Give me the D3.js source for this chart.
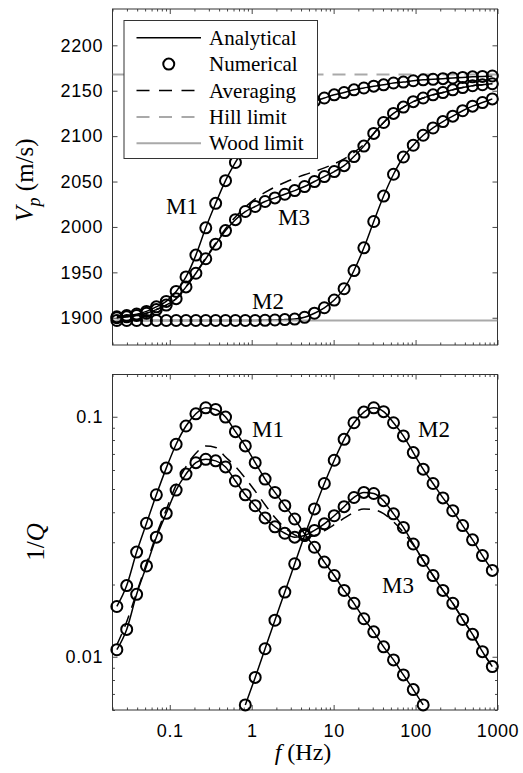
<!DOCTYPE html>
<html>
<head>
<meta charset="utf-8">
<script src="https://cdn.jsdelivr.net/npm/d3@7"></script>
<style>
  body { margin: 0; background: #fff; }
  svg { display: block; }
</style>
</head>
<body>
<svg id="chart" width="523" height="773"></svg>
<script>
// ---------------- DATA ----------------
const freq = [0.0226, 0.0298, 0.0394, 0.0520, 0.0686, 0.0906, 0.1196, 0.1578, 0.2084, 0.2750,
  0.3631, 0.4793, 0.6328, 0.8354, 1.103, 1.456, 1.921, 2.536, 3.348, 4.420,
  5.834, 7.701, 10.17, 13.42, 17.72, 23.39, 30.87, 40.75, 53.80, 71.02,
  93.76, 123.8, 163.4, 215.7, 284.7, 375.8, 496.1, 654.9, 864.6];

// P-wave velocity (m/s)
const vpM1 = [1901, 1902.5, 1904, 1907, 1912, 1918, 1929, 1945, 1969, 1999,
  2026, 2051, 2071, 2088, 2102, 2112, 2120, 2126, 2131, 2135,
  2138.5, 2142, 2145.5, 2148, 2151, 2153, 2155, 2156.5, 2158.5, 2159.5,
  2161, 2162, 2162.6, 2163.3, 2164, 2164.7, 2165.3, 2165.8, 2166.2];
const vpM2 = [1897, 1897, 1897, 1897, 1897, 1897, 1897, 1897, 1897, 1897,
  1897, 1897, 1897, 1897, 1897, 1897.2, 1897.5, 1898, 1898.5, 1900.5,
  1905, 1911, 1919.5, 1932, 1952, 1977, 2006, 2034, 2058, 2077,
  2090, 2101, 2109, 2116, 2122, 2128, 2133, 2137, 2141];
const vpM3 = [1900, 1901, 1902.5, 1905, 1909, 1914, 1921, 1934, 1949, 1965,
  1981, 1996, 2008, 2017, 2022.5, 2028, 2032, 2036, 2040, 2044.5,
  2050, 2055.5, 2061, 2067.5, 2077.5, 2089, 2103, 2115, 2125, 2132,
  2138, 2142, 2145.5, 2148, 2151, 2153.5, 2155.5, 2156.6, 2157.7];
const vpAvgM3 = [1900, 1901, 1902.5, 1905, 1909, 1914, 1921, 1934, 1949, 1966,
  1982, 1998, 2011, 2022, 2031, 2038, 2044, 2049, 2053.5, 2057.5,
  2061, 2065, 2069.5, 2075, 2082, 2091, 2103, 2115, 2125, 2132,
  2138, 2142, 2145.5, 2148, 2151, 2153.5, 2155.5, 2156.6, 2157.7];
const hillLimit = 2168;
const woodLimit = 1897;

// attenuation 1/Q (null = outside the plotted range)
const qM1 = [0.0162, 0.0198, 0.0273, 0.036, 0.0473, 0.0611, 0.0768, 0.0915, 0.1029, 0.109,
  0.1073, 0.0997, 0.0867, 0.0756, 0.0644, 0.055, 0.0484, 0.0426, 0.0375, 0.0325,
  0.0286, 0.0248, 0.0218, 0.0189, 0.0167, 0.0144, 0.0127, 0.0110, 0.0097, 0.0084,
  0.0073, 0.0063, null, null, null, null, null, null, null];
const qM2 = [null, null, null, null, null, null, null, null, null, null,
  null, null, null, 0.0063, 0.0082, 0.0108, 0.0142, 0.0186, 0.0244, 0.032,
  0.0413, 0.0527, 0.0659, 0.0805, 0.0944, 0.1046, 0.109, 0.105, 0.0944, 0.0832,
  0.0709, 0.0605, 0.0527, 0.0459, 0.0406, 0.0352, 0.0307, 0.0264, 0.0229];
const qM3 = [0.0107, 0.013, 0.0182, 0.0239, 0.0315, 0.0396, 0.0495, 0.0577, 0.0644, 0.0665,
  0.0655, 0.0618, 0.054, 0.0473, 0.0426, 0.0379, 0.0348, 0.0327, 0.0315, 0.0320,
  0.0336, 0.0358, 0.0387, 0.0422, 0.0461, 0.0484, 0.0479, 0.0447, 0.0394, 0.0346,
  0.0295, 0.0252, 0.0218, 0.0189, 0.0167, 0.0143, 0.0124, 0.0105, 0.0091];
const qAvgM3 = [0.0112, 0.0140, 0.0185, 0.0245, 0.0322, 0.041, 0.052, 0.062, 0.0705, 0.0755,
  0.0745, 0.068, 0.062, 0.0555, 0.049, 0.043, 0.038, 0.0345, 0.0322, 0.0315,
  0.032, 0.0335, 0.0355, 0.0378, 0.0400, 0.0413, 0.0410, 0.0395, 0.0365, 0.033,
  0.0292, 0.0252, 0.0218, 0.0189, 0.0167, 0.0143, 0.0124, 0.0105, 0.0091];

const xMajorTicks = [0.1, 1, 10, 100, 1000];
const vpTicks = [1900, 1950, 2000, 2050, 2100, 2150, 2200];
const qMajorTicks = [0.01, 0.1];
const legendLabels = ["Analytical", "Numerical", "Averaging", "Hill limit", "Wood limit"];

// ---------------- SETUP ----------------
const svg = d3.select("#chart");
const left = 112.5, right = 497.5;
const top1 = 9, bot1 = 345;
const top2 = 374.5, bot2 = 710;

const serif = "'Liberation Serif', 'Times New Roman', serif";
const sans = "'Liberation Sans', Arial, Helvetica, sans-serif";
const gray = "#a9a9a9";
const axisColor = "#333";
const markerR = 5.5, markerW = 2;

const x = d3.scaleLog().domain([0.02, 1000]).range([left, right]);
const yTop = d3.scaleLinear().domain([1870, 2240]).range([bot1, top1]);
const yBot = d3.scaleLog().domain([0.006, 0.15]).range([bot2, top2]);

const isDecade = d => Math.abs(Math.log10(d) - Math.round(Math.log10(d))) < 1e-6;
const xMinorTicks = x.ticks().filter(d => !isDecade(d));

function styleAxis(g) {
  g.select(".domain").remove();
  g.selectAll(".tick line").attr("stroke", axisColor).attr("stroke-width", 0.9);
  g.selectAll(".tick text")
    .attr("fill", "#000")
    .style("font-family", sans)
    .style("font-size", "18px")
    .style("letter-spacing", "0.6px");
}

// inward ticks on all four sides, like a boxed MATLAB axes
function drawFrame(y, y0, y1, yMajor, yMinor, yFmt, xLabels) {
  const g = svg.append("g");
  // bottom
  g.append("g").attr("transform", `translate(0,${y1})`)
    .call(d3.axisBottom(x).tickValues(xMajorTicks).tickSize(-5).tickPadding(14)
      .tickFormat(xLabels ? d => String(d) : () => ""))
    .call(styleAxis);
  g.append("g").attr("transform", `translate(0,${y1})`)
    .call(d3.axisBottom(x).tickValues(xMinorTicks).tickSize(-2.5).tickFormat(() => ""))
    .call(styleAxis);
  // top
  g.append("g").attr("transform", `translate(0,${y0})`)
    .call(d3.axisTop(x).tickValues(xMajorTicks).tickSize(-5).tickFormat(() => ""))
    .call(styleAxis);
  g.append("g").attr("transform", `translate(0,${y0})`)
    .call(d3.axisTop(x).tickValues(xMinorTicks).tickSize(-2.5).tickFormat(() => ""))
    .call(styleAxis);
  // left
  g.append("g").attr("transform", `translate(${left},0)`)
    .call(d3.axisLeft(y).tickValues(yMajor).tickSize(-5).tickPadding(9.5).tickFormat(yFmt))
    .call(styleAxis);
  // right
  g.append("g").attr("transform", `translate(${right},0)`)
    .call(d3.axisRight(y).tickValues(yMajor).tickSize(-5).tickFormat(() => ""))
    .call(styleAxis);
  if (yMinor.length) {
    g.append("g").attr("transform", `translate(${left},0)`)
      .call(d3.axisLeft(y).tickValues(yMinor).tickSize(-2.5).tickFormat(() => ""))
      .call(styleAxis);
    g.append("g").attr("transform", `translate(${right},0)`)
      .call(d3.axisRight(y).tickValues(yMinor).tickSize(-2.5).tickFormat(() => ""))
      .call(styleAxis);
  }
  // box
  svg.append("rect")
    .attr("x", left).attr("y", y0)
    .attr("width", right - left).attr("height", y1 - y0)
    .attr("fill", "none").attr("stroke", axisColor).attr("stroke-width", 1);
}

function clip(id, y0, y1) {
  svg.append("clipPath").attr("id", id)
    .append("rect").attr("x", left).attr("y", y0)
    .attr("width", right - left).attr("height", y1 - y0);
}
clip("clipTop", top1, bot1);
clip("clipBot", top2, bot2);

function drawCurve(layer, y, vals, dashed) {
  const pts = freq.map((f, i) => [f, vals[i]]).filter(d => d[1] != null);
  const line = d3.line().x(d => x(d[0])).y(d => y(d[1])).curve(d3.curveMonotoneX);
  layer.append("path")
    .attr("d", line(pts))
    .attr("fill", "none")
    .attr("stroke", "#000")
    .attr("stroke-width", 1.5)
    .attr("stroke-dasharray", dashed ? "12,8" : null);
}

function drawMarkers(layer, y, vals) {
  const pts = freq.map((f, i) => [f, vals[i]]).filter(d => d[1] != null);
  layer.selectAll(null).data(pts).enter().append("circle")
    .attr("cx", d => x(d[0]))
    .attr("cy", d => y(d[1]))
    .attr("r", markerR)
    .attr("fill", "none")
    .attr("stroke", "#000")
    .attr("stroke-width", markerW);
}

function label(txt, px, py) {
  svg.append("text").attr("x", px).attr("y", py)
    .style("font-family", serif).style("font-size", "23px")
    .text(txt);
}

// ---------------- TOP PANEL: Vp ----------------
drawFrame(yTop, top1, bot1, vpTicks, [], d3.format("d"), false);

const layerTop = svg.append("g").attr("clip-path", "url(#clipTop)");
[vpM1, vpM2, vpM3].forEach(v => drawCurve(layerTop, yTop, v, false));
[vpM1, vpM2, vpM3].forEach(v => drawMarkers(svg, yTop, v));
drawCurve(layerTop, yTop, vpAvgM3, true);

layerTop.append("line")
  .attr("x1", left).attr("x2", right)
  .attr("y1", yTop(hillLimit)).attr("y2", yTop(hillLimit))
  .attr("stroke", gray).attr("stroke-width", 2).attr("stroke-dasharray", "13,9");
layerTop.append("line")
  .attr("x1", left).attr("x2", right)
  .attr("y1", yTop(woodLimit)).attr("y2", yTop(woodLimit))
  .attr("stroke", gray).attr("stroke-width", 2);

label("M1", 166, 214);
label("M3", 278, 225);
label("M2", 252, 309);

// ---------------- LEGEND ----------------
const leg = svg.append("g");
leg.append("rect")
  .attr("x", 124).attr("y", 20.5).attr("width", 193.5).attr("height", 138)
  .attr("fill", "#fff").attr("stroke", axisColor).attr("stroke-width", 1);
const rowY = d3.scalePoint().domain(legendLabels).range([37.7, 143.3]);
const lx1 = 136.5, lx2 = 201;
leg.append("line").attr("x1", lx1).attr("x2", lx2)
  .attr("y1", rowY("Analytical")).attr("y2", rowY("Analytical"))
  .attr("stroke", "#000").attr("stroke-width", 1.5);
leg.append("circle").attr("cx", (lx1 + lx2) / 2).attr("cy", rowY("Numerical")).attr("r", markerR)
  .attr("fill", "none").attr("stroke", "#000").attr("stroke-width", markerW);
leg.append("line").attr("x1", lx1).attr("x2", lx2)
  .attr("y1", rowY("Averaging")).attr("y2", rowY("Averaging"))
  .attr("stroke", "#000").attr("stroke-width", 1.5).attr("stroke-dasharray", "13,9.5");
leg.append("line").attr("x1", lx1).attr("x2", lx2)
  .attr("y1", rowY("Hill limit")).attr("y2", rowY("Hill limit"))
  .attr("stroke", gray).attr("stroke-width", 2).attr("stroke-dasharray", "13,9.5");
leg.append("line").attr("x1", lx1).attr("x2", lx2)
  .attr("y1", rowY("Wood limit")).attr("y2", rowY("Wood limit"))
  .attr("stroke", gray).attr("stroke-width", 2);
leg.selectAll(null).data(legendLabels).enter().append("text")
  .attr("x", 209)
  .attr("y", d => rowY(d) + 7)
  .style("font-family", serif).style("font-size", "21px")
  .text(d => d);

// ---------------- BOTTOM PANEL: 1/Q ----------------
const yMinorQ = yBot.ticks().filter(d => !isDecade(d));
drawFrame(yBot, top2, bot2, qMajorTicks, yMinorQ, d => String(d), true);

const layerBot = svg.append("g").attr("clip-path", "url(#clipBot)");
[qM1, qM2, qM3].forEach(v => drawCurve(layerBot, yBot, v, false));
[qM1, qM2, qM3].forEach(v => drawMarkers(svg, yBot, v));
drawCurve(layerBot, yBot, qAvgM3, true);

label("M1", 252, 437);
label("M2", 418, 437);
label("M3", 382, 593);

// ---------------- AXIS LABELS ----------------
const vl = svg.append("text")
  .attr("transform", "translate(33,180) rotate(-90)")
  .attr("text-anchor", "middle")
  .style("font-family", serif).style("font-size", "25px");
vl.append("tspan").style("font-style", "italic").text("V");
vl.append("tspan").style("font-style", "italic").style("font-size", "18px").attr("dy", 7).text("p");
vl.append("tspan").attr("dy", -7).text(" (m/s)");

const ql = svg.append("text")
  .attr("transform", "translate(44,542) rotate(-90)")
  .attr("text-anchor", "middle")
  .style("font-family", serif).style("font-size", "25px");
ql.append("tspan").text("1/");
ql.append("tspan").style("font-style", "italic").text("Q");

const fl = svg.append("text")
  .attr("x", 303).attr("y", 760)
  .attr("text-anchor", "middle")
  .style("font-family", serif).style("font-size", "24px");
fl.append("tspan").style("font-style", "italic").text("f");
fl.append("tspan").text(" (Hz)");
</script>
</body>
</html>
